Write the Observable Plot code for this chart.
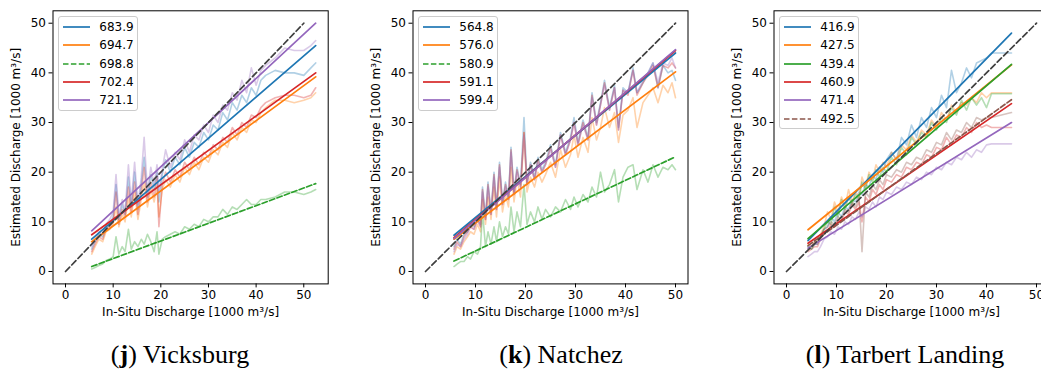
<!DOCTYPE html>
<html><head><meta charset="utf-8">
<script src="https://cdn.jsdelivr.net/npm/d3@7"></script>
<script src="https://cdn.jsdelivr.net/npm/@observablehq/plot@0.6"></script>
<style>
html,body{margin:0;padding:0;background:#fff;overflow:hidden;}
#fig{position:relative;width:1041px;height:369px;overflow:hidden;font-family:"DejaVu Sans",sans-serif;color:#000;}
.panel{position:absolute;top:0;}
.legend{position:absolute;border:1px solid #cccccc;border-radius:3px;background:rgba(255,255,255,0.8);box-sizing:border-box;}
.legend .row{position:absolute;left:0;height:0;}
.legend span{position:absolute;left:40px;top:0;transform:translateY(-50%);font-size:12px;white-space:nowrap;line-height:14px;}
.legend svg{position:absolute;left:3px;top:-4px;}
.caption{position:absolute;font-family:"Liberation Serif",serif;font-size:26px;transform:translate(-50%,-50%);white-space:nowrap;}
</style></head><body><div id="fig"></div><script>
// ---------- shared ----------
const ticks = [0, 10, 20, 30, 40, 50];
const xLabel = "In-Situ Discharge [1000 m³/s]";
const yLabel = "Estimated Discharge [1000 m³/s]";
const oneToOne = [0, 50];
const tab10 = ["#1f77b4", "#ff7f0e", "#2ca02c", "#d62728", "#9467bd", "#8c564b"];

// ---------- (j) Vicksburg ----------
const vLabels = ["683.9", "694.7", "698.8", "702.4", "721.1"];
const vX = [5.5, 6.2, 7.0, 7.8, 8.5, 9.3, 10.0, 10.6, 11.2, 11.9, 12.5, 13.2, 13.8, 14.5, 15.2, 15.9, 16.5, 17.2, 17.9, 18.6, 19.2, 19.6, 20.3, 21.0, 22.0, 23.0, 24.0, 25.0, 26.0, 27.0, 28.0, 29.0, 30.0, 31.0, 32.0, 33.0, 34.0, 35.0, 36.0, 37.0, 38.0, 39.0, 40.0, 41.0, 42.0, 44.0, 46.0, 48.0, 50.0, 51.5, 52.5];
const vBlue = [4.5, 6, 7.5, 7, 9, 9.5, 11, 17.5, 10.5, 13.5, 11.5, 19, 13, 20, 12.5, 17.5, 23, 15, 19.5, 16.5, 20, 14, 19.5, 22.5, 20, 23, 21.5, 25, 23, 26, 25, 28, 26.5, 29.5, 28.5, 32, 30.5, 34, 32.5, 35.5, 34, 37, 35.5, 38.5, 39.5, 40.5, 40, 40, 39.5, 41, 42];
const vOrange = [3.5, 5, 6.5, 6, 8, 8.5, 9.5, 13, 9, 11.5, 10, 15, 11, 16, 10.5, 14.5, 18, 13, 16.5, 14, 17, 11, 16.5, 18.5, 17, 19.5, 18, 21, 19.5, 22, 20.5, 23, 22, 24.5, 23.5, 26, 25, 28, 26.5, 29, 28, 30.5, 30, 32, 33, 34.5, 34.5, 34, 34.5, 35, 36];
const vGreen = [0.5, 0.8, 1.2, 1.5, 2.2, 2.5, 3, 7, 3.5, 5, 4, 8.5, 4.5, 6, 5, 6.5, 5.5, 7.5, 6, 4, 8, 3.5, 6.5, 7, 7.5, 8, 7.5, 9, 8.5, 9.5, 9, 10.5, 10, 11, 11, 12.5, 11.5, 13, 12.5, 13.5, 14.5, 13.5, 13.5, 14.5, 14.5, 15, 16, 16, 15.5, 16, 16.5];
const vRed = [4, 5.5, 7, 6.5, 8.5, 9, 10, 16, 9.5, 12.5, 11, 17, 12, 18, 11.5, 16, 21, 14, 18, 15, 19, 9, 17.5, 20, 18, 20.5, 19, 22, 20.5, 23, 21.5, 24, 23, 25.5, 24.5, 27, 26, 29, 27.5, 30, 29, 31.5, 31, 33, 34, 35, 35.5, 35.5, 35, 35.5, 37];
const vPurple = [5, 6.5, 8, 7.5, 9.5, 10.5, 12, 19.5, 11, 14.5, 12, 21.5, 14, 22, 13.5, 19, 27, 16, 21, 17.5, 21.5, 16, 20.5, 24.5, 21, 24, 22.5, 26.5, 24, 27.5, 26.5, 29.5, 28, 31.5, 30, 33.5, 32.5, 36, 34.5, 38.5, 36, 41, 37.5, 40.5, 41.5, 43, 45, 44.5, 44.5, 45.5, 46.5];
const vFitX = [5.5, 52.5];
const vFitBlue = [6.5, 45.5];
const vFitOrange = [6.0, 39.2];
const vFitGreen = [1.0, 17.7];
const vFitRed = [7.4, 40.0];
const vFitPurple = [8.2, 50.0];

// ---------- (k) Natchez ----------
const nLabels = ["564.8", "576.0", "580.9", "591.1", "599.4"];
const nX = [5.7, 6.3, 7.0, 7.7, 8.4, 9.0, 9.7, 10.4, 11.0, 11.4, 12.0, 12.5, 13.1, 13.7, 14.2, 14.8, 15.4, 16.0, 16.6, 17.1, 17.7, 18.3, 19.0, 19.7, 20.3, 21.0, 21.8, 22.5, 23.3, 24.0, 25.0, 26.0, 27.0, 28.0, 29.0, 29.7, 30.5, 31.5, 32.5, 33.3, 34.2, 35.0, 35.8, 36.8, 37.8, 38.6, 39.5, 40.5, 41.5, 42.3, 43.5, 44.5, 45.5, 46.5, 47.5, 48.5, 49.3, 50.0];
const nBlue = [5, 6.5, 5.5, 7.5, 8, 9.5, 9, 11, 9.5, 17, 11, 18, 12, 20, 13, 22, 14, 18, 15, 25, 16, 21, 17.5, 31, 18, 22, 19, 23, 20.5, 22, 25.5, 21.5, 28, 24, 27, 31, 26, 30.5, 27, 36, 30, 34, 38.5, 33, 37.5, 29, 37, 36, 41, 36, 38, 40, 42, 37, 41.5, 40, 40.5, 38.5];
const nOrange = [3.5, 5, 4.5, 6, 7, 8, 7.5, 9.5, 8, 14.5, 9.5, 15, 10.5, 17, 11, 19, 12, 15.5, 13, 21, 14, 18.5, 15, 28, 16, 19, 17, 20, 18, 19.5, 22, 19, 24.5, 21, 23.5, 27.5, 23, 27, 24, 31, 26.5, 29, 33, 29, 32, 26, 31.5, 32.5, 35, 29, 34, 35.5, 37, 34, 37.5, 36, 38, 35];
const nGreen = [1, 1.5, 2, 2, 3, 2.5, 4, 3.5, 5, 12, 5, 8, 5.5, 9, 6, 10, 7, 9, 7.5, 13, 8, 12, 9, 17.5, 9.5, 12, 10, 13, 10.5, 12.5, 11, 13, 12, 14.5, 12.5, 15, 13, 15.5, 14, 17, 15, 20, 16, 17.5, 20.5, 14, 19, 21, 21.5, 16.5, 20.5, 18, 21.5, 19, 21, 20.5, 21.5, 20.5];
const nRed = [4.5, 6, 5, 7, 8, 9, 8.5, 10.5, 9, 16.5, 10.5, 17.5, 11.5, 19.5, 12.5, 21.5, 13.5, 17.5, 14.5, 24.5, 15.5, 20.5, 17, 28, 17.5, 21.5, 18.5, 22.5, 20, 21.5, 25, 21, 27.5, 23.5, 26.5, 30, 25.5, 30, 26.5, 35.5, 29.5, 33.5, 38, 32.5, 37, 28.5, 36.5, 35.5, 40.5, 35.5, 38, 39.5, 41.5, 37, 41.5, 41, 42, 41];
const nPurple = [4, 5.5, 5, 6.5, 7.5, 9, 8.5, 10.5, 9, 16, 10.5, 17, 11.5, 19, 12.5, 21, 13.5, 17, 14.5, 24, 15.5, 20, 17, 27.5, 17.5, 21.5, 18.5, 22, 20, 21.5, 24.5, 21, 27.5, 23.5, 26.5, 30, 25.5, 29.5, 26.5, 35, 29.5, 33.5, 37.5, 32.5, 37, 28.5, 36.5, 36, 40.5, 36, 38.5, 40, 42, 38, 42, 41.5, 43, 41];
const nFitX = [5.7, 50.0];
const nFitBlue = [7.3, 44.0];
const nFitOrange = [6.5, 40.2];
const nFitGreen = [2.1, 23.1];
const nFitRed = [6.8, 44.5];
const nFitPurple = [6.6, 44.7];

// ---------- (l) Tarbert Landing ----------
const tLabels = ["416.9", "427.5", "439.4", "460.9", "471.4", "492.5"];
const tX = [4.3, 5.0, 5.6, 6.2, 6.8, 7.5, 8.2, 8.9, 9.6, 10.3, 11.0, 11.7, 12.4, 13.1, 13.8, 14.5, 15.1, 15.8, 16.5, 17.2, 17.9, 18.6, 19.3, 20.0, 21.0, 22.0, 23.0, 24.0, 25.0, 26.0, 27.0, 28.0, 29.0, 30.0, 31.0, 32.0, 33.0, 34.0, 35.0, 36.0, 37.0, 38.0, 39.0, 40.0, 41.0, 45.0];
const tBlue = [5, 4.5, 5.5, 5.5, 7, 8.5, 9, 11, 10, 12, 11, 13, 12.5, 14.5, 14, 16, 15.5, 17.5, 17, 19.5, 18.5, 21, 20, 22.5, 24, 22.5, 27, 25.5, 29.5, 27, 31, 29, 33, 31, 35.5, 33, 40.5, 36, 38, 41, 39, 42, 42.5, 43, 44, 44];
const tOrange = [5.5, 5, 6, 6, 7.5, 9, 12, 10.5, 14, 12, 15, 13, 16.5, 14, 16, 15, 19, 17, 20, 18.5, 21.5, 20, 22, 21, 24, 22.5, 25.5, 24.5, 27.5, 26, 28.5, 27.5, 30.5, 29, 32, 30.5, 33.5, 32, 34, 33.5, 35, 34, 36, 35, 36, 36];
const tGreen = [5, 4.5, 5.5, 6, 7, 8.5, 10, 9.5, 13, 11, 14.5, 12.5, 15, 13.5, 15.5, 14.5, 18, 16.5, 19.5, 18, 20.5, 19, 21, 20, 23, 21.5, 25, 23.5, 27, 25.5, 28, 27, 30, 28.5, 31, 30, 33, 31.5, 34.5, 32.5, 35, 33.5, 35, 33, 35.8, 35.8];
const tRed = [4, 4.5, 5, 5, 6.5, 8, 8, 9.5, 9, 10.5, 10, 12, 11.5, 13.5, 12.5, 14, 10, 15, 14, 16.5, 15.5, 17.5, 16.5, 18.5, 18, 19.5, 19, 21, 20.5, 22, 21.5, 23.5, 23, 25, 24.5, 27, 25.5, 27.5, 27, 29, 28, 30, 29, 29.5, 29, 29];
const tPurple = [3, 3.5, 4, 4, 5, 6.5, 7, 8, 7.5, 9, 8.5, 10, 9.5, 11, 10.5, 12, 11, 13, 12.5, 14, 13, 15, 14.5, 16, 15.5, 17, 16.5, 18, 17.5, 19, 18.5, 20, 19.5, 21, 20.5, 22, 21.5, 23, 22.5, 24, 23, 24.5, 24, 25.5, 25.7, 25.7];
const tBrown = [4.5, 5, 5.5, 5.5, 7, 8.5, 9, 10, 9.5, 11, 10.5, 12.5, 12, 14, 13, 15, 4, 16, 15, 17.5, 16.5, 18.5, 17.5, 19.5, 19, 20.5, 20, 22, 21.5, 23, 22.5, 24.5, 24, 26, 25.5, 28, 26.5, 28.5, 28, 30, 29, 31, 30.5, 31, 31, 32];
const tFitX = [4.3, 45.0];
const tFitBlue = [6.2, 48.0];
const tFitOrange = [8.4, 41.6];
const tFitGreen = [6.6, 41.7];
const tFitRed = [5.7, 33.8];
const tFitPurple = [4.7, 30.0];
const tFitBrown = [5.2, 34.6];

// ---------- panel configs (layout + styles) ----------
const panels = [
  {left: 0, width: 340, ml: 52.5, mr: 12.3, xDomain: [-2.625, 55.125], x: vX, fitX: vFitX, labels: vLabels,
   raw: [vBlue, vOrange, vGreen, vRed, vPurple], fit: [vFitBlue, vFitOrange, vFitGreen, vFitRed, vFitPurple],
   dashed: 2, legendLeft: 58.3, caption: ["j", "Vicksburg"], capX: 180},
  {left: 350, width: 345, ml: 62.5, mr: 7.5, xDomain: [-2.5, 52.5], x: nX, fitX: nFitX, labels: nLabels,
   raw: [nBlue, nOrange, nGreen, nRed, nPurple], fit: [nFitBlue, nFitOrange, nFitGreen, nFitRed, nFitPurple],
   dashed: 2, legendLeft: 418.3, caption: ["k", "Natchez"], capX: 561},
  {left: 700, width: 355, ml: 73.5, mr: 6.5, xDomain: [-2.5, 52.5], x: tX, fitX: tFitX, labels: tLabels,
   raw: [tBlue, tOrange, tGreen, tRed, tPurple, tBrown], fit: [tFitBlue, tFitOrange, tFitGreen, tFitRed, tFitPurple, tFitBrown],
   dashed: 5, legendLeft: 779.3, caption: ["l", "Tarbert Landing"], capX: 905}
];
const H = 330, MT = 10.3, MB = 46.6;
const dash = "5.5,2.4";

const fig = document.getElementById("fig");

panels.forEach(p => {
  const marks = [];
  p.raw.forEach((ys, k) => {
    marks.push(Plot.line(p.x.map((x, i) => ({x, y: ys[i]})),
      {x: "x", y: "y", stroke: tab10[k], strokeOpacity: 0.35, strokeWidth: 1.6}));
  });
  p.fit.forEach((ys, k) => {
    const opts = {x: "x", y: "y", stroke: tab10[k], strokeWidth: 1.7};
    if (k === p.dashed) opts.strokeDasharray = dash;
    marks.push(Plot.line(p.fitX.map((x, i) => ({x, y: ys[i]})), opts));
  });
  marks.push(Plot.line(oneToOne.map(v => ({x: v, y: v})),
    {x: "x", y: "y", stroke: "#3f3f3f", strokeWidth: 1.7, strokeDasharray: "6,3"}));
  marks.push(Plot.frame({stroke: "black", strokeWidth: 1}));
  marks.push(Plot.text([xLabel], {frameAnchor: "bottom", dy: 32, text: d => d, fontSize: 12, fill: "black"}));
  marks.push(Plot.text([yLabel], {frameAnchor: "left", textAnchor: "middle", dx: -36.5, rotate: -90, text: d => d, fontSize: 12, fill: "black"}));

  const chart = Plot.plot({
    width: p.width, height: H,
    marginLeft: p.ml, marginRight: p.mr, marginTop: MT, marginBottom: MB,
    x: {domain: p.xDomain, ticks: ticks, tickSize: 4, tickPadding: 3, label: null},
    y: {domain: [-2.5, 52.5], ticks: ticks, tickSize: 4, tickPadding: 3, label: null},
    style: {fontFamily: "DejaVu Sans", fontSize: "12px", color: "black", background: "white", overflow: "visible"},
    marks
  });
  const wrap = document.createElement("div");
  wrap.className = "panel";
  wrap.style.left = p.left + "px";
  wrap.style.width = p.width + "px";
  wrap.appendChild(chart);
  fig.appendChild(wrap);

  // legend
  const n = p.labels.length;
  const lg = document.createElement("div");
  lg.className = "legend";
  lg.style.left = p.legendLeft + "px";
  lg.style.top = "16px";
  lg.style.width = "80px";
  lg.style.height = (18.33 * n + 3) + "px";
  p.labels.forEach((lab, k) => {
    const row = document.createElement("div");
    row.className = "row";
    row.style.top = (10 + 18.33 * k) + "px";
    const dashAttr = k === p.dashed ? ` stroke-dasharray="${dash}"` : "";
    row.innerHTML = `<svg width="30" height="8"><line x1="1" x2="28" y1="4" y2="4" stroke="${tab10[k]}" stroke-width="1.7"${dashAttr}/></svg><span>${lab}</span>`;
    lg.appendChild(row);
  });
  fig.appendChild(lg);

  // caption
  const cap = document.createElement("div");
  cap.className = "caption";
  cap.style.left = p.capX + "px";
  cap.style.top = "355px";
  cap.innerHTML = `(<b>${p.caption[0]}</b>) ${p.caption[1]}`;
  fig.appendChild(cap);
});
</script></body></html>
